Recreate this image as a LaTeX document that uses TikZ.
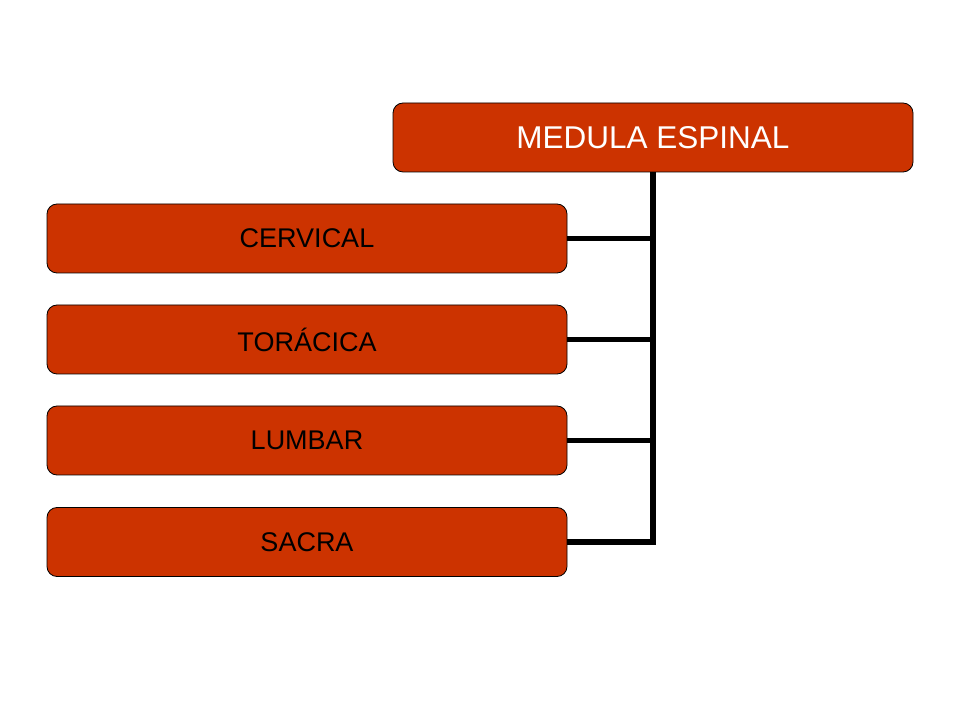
\documentclass[tikz,border=0pt]{standalone}
\usepackage{fontspec}
\setmainfont{Liberation Sans}
\definecolor{boxred}{HTML}{CC3300}
\begin{document}
\begin{tikzpicture}[x=1pt,y=1pt,
  box/.style={draw=black, line width=0.8pt, fill=boxred, rounded corners=10pt,
    minimum width=520pt, minimum height=69pt, inner sep=0pt},
  conn/.style={draw=black, line width=5.5pt}]
\useasboundingbox (0,0) rectangle (960,720);
\node[box, text=white, font=\fontsize{31.5}{36}\selectfont] (top) at (653,582.5) {MEDULA ESPINAL};
\node[box, font=\fontsize{27}{32}\selectfont] (c1) at (307,481.5) {CERVICAL};
\node[box, font=\fontsize{27}{32}\selectfont] (c2) at (307,380.5) {TORÁCICA};
\node[box, font=\fontsize{27}{32}\selectfont] (c3) at (307,279.5) {LUMBAR};
\node[box, font=\fontsize{27}{32}\selectfont] (c4) at (307,178) {SACRA};
\draw[conn] (top.south) -- (top.south |- c4.east) -- (c4.east);
\draw[conn] (c1.east) -- (top.south |- c1.east);
\draw[conn] (c2.east) -- (top.south |- c2.east);
\draw[conn] (c3.east) -- (top.south |- c3.east);
\end{tikzpicture}
\end{document}
